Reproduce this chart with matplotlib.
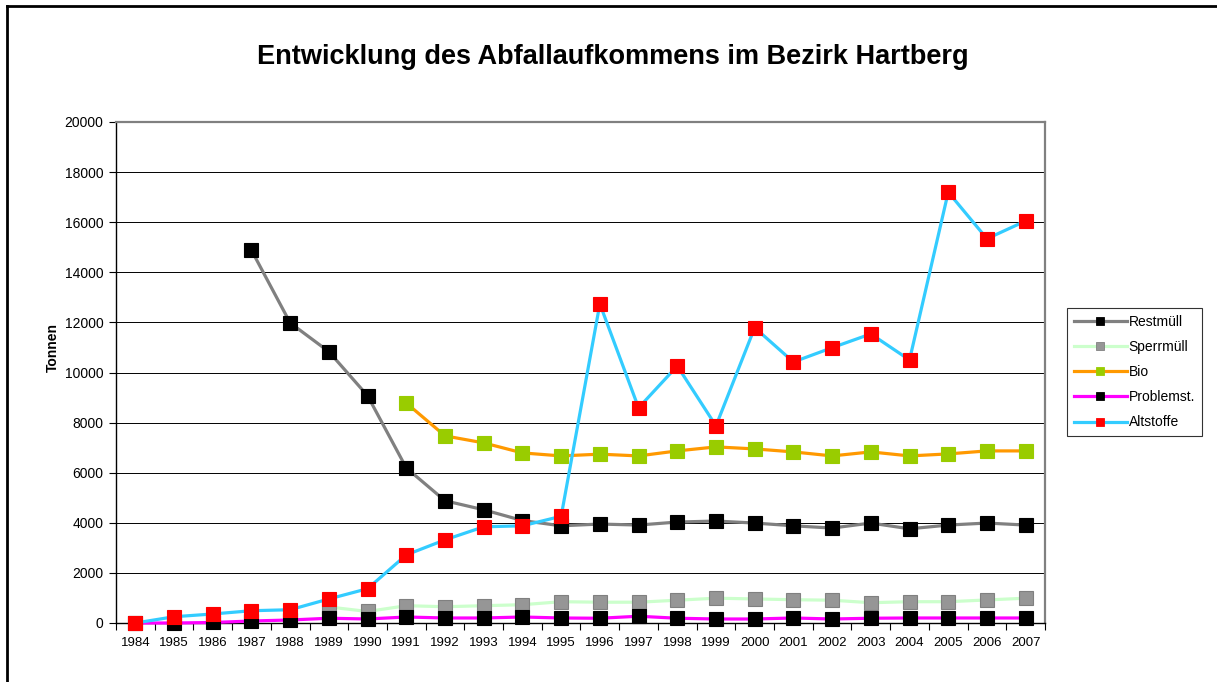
import numpy as np
import matplotlib
matplotlib.use("Agg")
import matplotlib.pyplot as plt
from matplotlib.lines import Line2D

plt.rcParams["font.family"] = ["Liberation Sans", "DejaVu Sans"]

years = [str(y) for y in range(1984, 2008)]
nan = np.nan

restmuell = [nan, nan, nan, 14880, 11980, 10830, 9070, 6190, 4880, 4520, 4090, 3880,
             3950, 3910, 4030, 4070, 3990, 3880, 3790, 3990, 3760, 3910, 3990, 3910]
sperrmuell = [nan, nan, nan, nan, nan, 640, 460, 690, 650, 690, 730, 850,
              830, 830, 910, 990, 960, 930, 910, 810, 850, 850, 920, 990]
bio = [nan, nan, nan, nan, nan, nan, nan, 8780, 7470, 7190, 6790, 6670,
       6740, 6670, 6870, 7030, 6950, 6830, 6670, 6830, 6670, 6750, 6870, 6870]
problemst = [0, 0, 20, 80, 120, 190, 160, 240, 200, 200, 240, 200,
             190, 270, 190, 160, 160, 200, 160, 190, 200, 200, 200, 200]
altstoffe = [0, 250, 360, 490, 530, 960, 1370, 2720, 3320, 3840, 3880, 4260,
             12740, 8590, 10260, 7870, 11790, 10420, 10990, 11540, 10500, 17200, 15340, 16050]

series = [
    ("Restmüll", restmuell, "#808080", "#000000", "#000000"),
    ("Sperrmüll", sperrmuell, "#CCFFCC", "#969696", "#808080"),
    ("Bio", bio, "#FF9900", "#99CC00", "#99CC00"),
    ("Problemst.", problemst, "#FF00FF", "#000000", "#000000"),
    ("Altstoffe", altstoffe, "#33CCFF", "#FF0000", "#FF0000"),
]

fig = plt.figure(figsize=(12.17, 6.82), dpi=100, facecolor="white")
ax = fig.add_axes([116 / 1217, 59 / 682, 929 / 1217, 501 / 682])

x = np.arange(len(years))
handles = []
for i, (name, vals, lc, mfc, mec) in enumerate(series):
    ax.plot(x, vals, color=lc, lw=2.3, marker="s", markersize=10.5,
            markerfacecolor=mfc, markeredgecolor=mec, markeredgewidth=0.8,
            zorder=3 + i, clip_on=False)
    handles.append(Line2D([], [], color=lc, lw=2.3, marker="s", markersize=6,
                          markerfacecolor=mfc, markeredgecolor=mec, markeredgewidth=0.6))

ax.set_xlim(-0.5, len(years) - 0.5)
ax.set_ylim(0, 20000)
ax.set_yticks(range(0, 20001, 2000))
ax.set_xticks(x)
ax.set_xticklabels(years)
ax.set_xticks(np.arange(-0.5, len(years), 1), minor=True)
ax.tick_params(axis="x", which="major", length=0, labelsize=9.5, pad=10)
ax.tick_params(axis="x", which="minor", length=5, width=0.8, direction="out")
ax.tick_params(axis="y", labelsize=10, length=5, width=0.8, direction="out", pad=4)
ax.grid(axis="y", color="#000000", lw=0.7, zorder=0)

for s in ["left", "bottom"]:
    ax.spines[s].set_color("black")
    ax.spines[s].set_linewidth(1.0)
for s in ["top", "right"]:
    ax.spines[s].set_color("#808080")
    ax.spines[s].set_linewidth(1.6)

ax.set_ylabel("Tonnen", fontsize=10, fontweight="bold")
ax.yaxis.set_label_coords(-0.06, 0.55)

fig.text(613 / 1217, 1 - 57 / 682, "Entwicklung des Abfallaufkommens im Bezirk Hartberg",
         ha="center", va="center", fontsize=19.5, fontweight="bold")

leg = fig.legend(handles, [s[0] for s in series], loc="upper left",
                 bbox_to_anchor=(1067 / 1217, 1 - 308 / 682), fontsize=10,
                 frameon=True, fancybox=False, edgecolor="black", borderpad=0.5,
                 labelspacing=0.8, handlelength=3.8, handletextpad=0.15,
                 borderaxespad=0)
leg.get_frame().set_linewidth(0.8)

# outer chart border (only top and left visible)
fig.add_artist(Line2D([7 / 1217, 7 / 1217], [0, 1 - 6 / 682], color="black",
                      lw=2, transform=fig.transFigure))
fig.add_artist(Line2D([7 / 1217, 1], [1 - 6 / 682, 1 - 6 / 682], color="black",
                      lw=2, transform=fig.transFigure))

fig.savefig("out.png", dpi=100, facecolor="white")
